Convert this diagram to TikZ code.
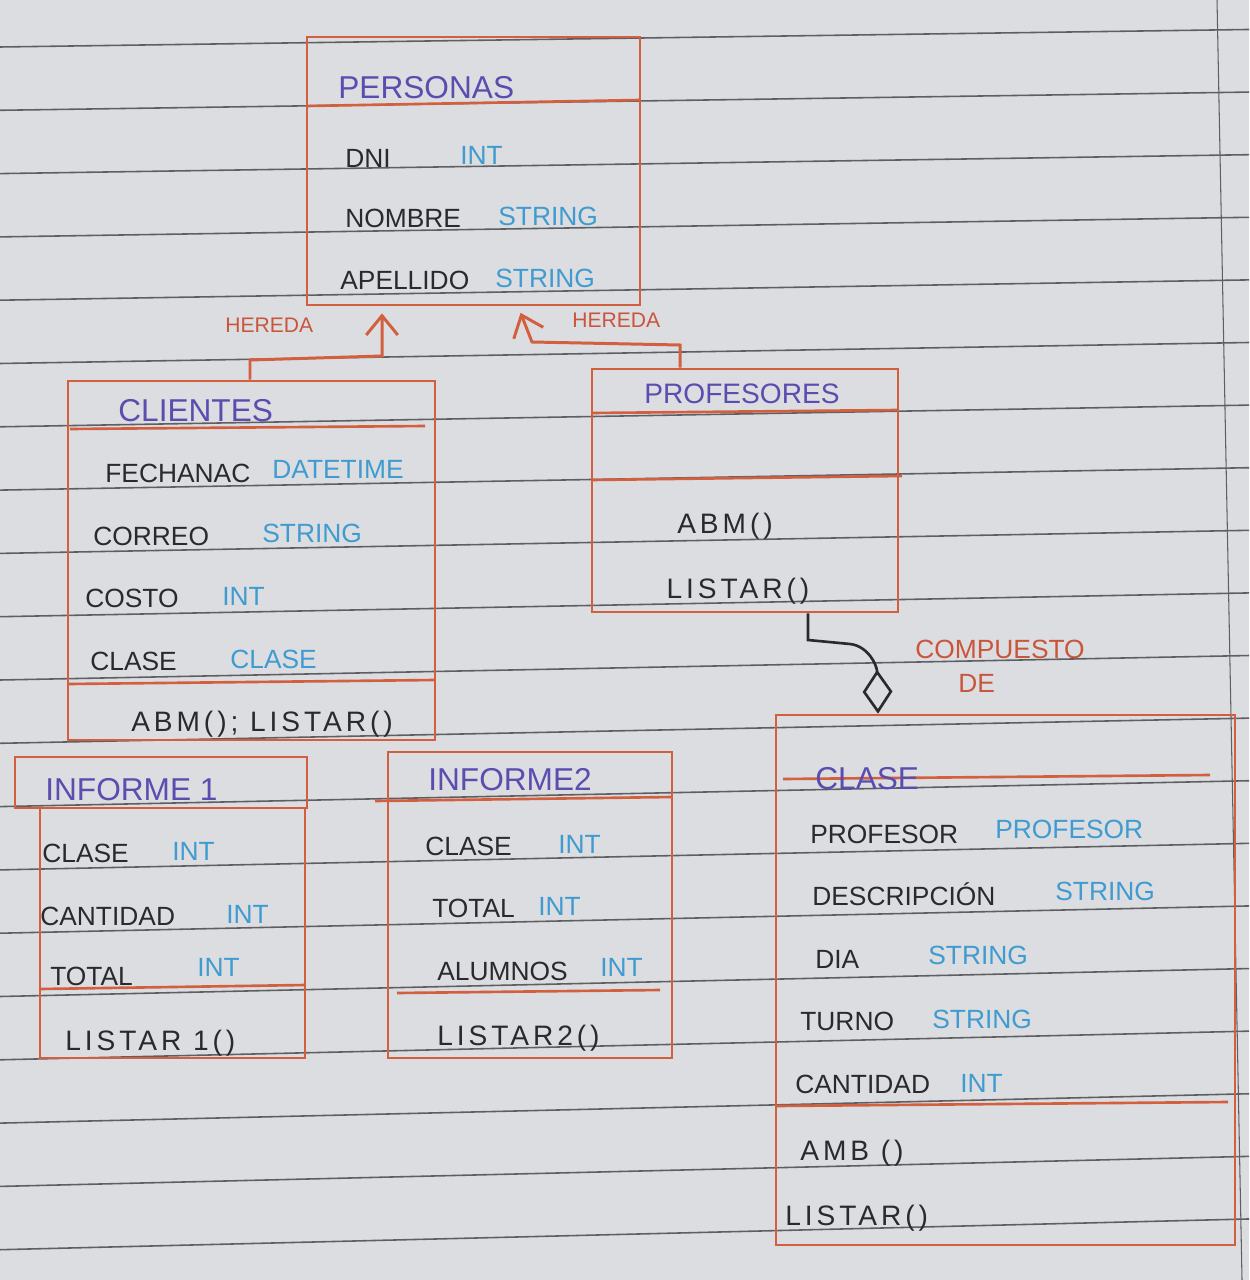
\documentclass[tikz,border=0pt]{standalone}
\usepackage{fontspec}
\setmainfont{Liberation Sans}
\usetikzlibrary{arrows.meta,fit}
\definecolor{paper}{HTML}{DCDDE0}
\definecolor{rulecol}{HTML}{5E5E63}
\definecolor{redpen}{HTML}{D2603F}
\definecolor{ink}{HTML}{2A2A2E}
\definecolor{violetpen}{HTML}{5B4DB0}
\definecolor{bluepen}{HTML}{3F9BD0}
\definecolor{labelred}{HTML}{C9563C}
\begin{document}
\begin{tikzpicture}[x=0.02cm,y=-0.02cm,
  classbox/.style={draw=redpen, line width=1.5pt, inner sep=0pt},
  sepline/.style={draw=redpen, line width=1.5pt},
  ruled/.style={draw=rulecol, line width=0.9pt},
  attr/.style={anchor=base west, inner sep=0pt, text=ink, font=\fontsize{15}{17}\selectfont},
  typ/.style={anchor=base west, inner sep=0pt, text=bluepen, font=\fontsize{15}{17}\selectfont},
  meth/.style={anchor=base, inner sep=0pt, text=ink, font=\fontsize{16}{18}\selectfont\addfontfeature{LetterSpace=14}},
  methw/.style={anchor=base west, inner sep=0pt, text=ink, font=\fontsize{16}{18}\selectfont\addfontfeature{LetterSpace=14}},
  title/.style={anchor=base west, inner sep=0pt, text=violetpen, font=\fontsize{18}{20}\selectfont},
  lbl/.style={anchor=base west, inner sep=0pt, text=labelred, font=\fontsize{12}{14}\selectfont},
  clbl/.style={anchor=base west, inner sep=0pt, text=labelred, font=\fontsize{15}{17}\selectfont},
  inh/.style={draw=redpen, line width=1.7pt, -{Straight Barb[length=11pt,width=18pt]}, shorten >=4pt},
  comp/.style={draw=ink, line width=1.5pt, -{Diamond[length=25pt,width=17pt,fill=paper]}}
]
\fill[paper] (0,0) rectangle (1249,1280);
\useasboundingbox (0,0) rectangle (1249,1280);
% ruled paper
\foreach \i in {0,...,19} {
  \pgfmathsetmacro{\yl}{47+63.3*\i}
  \pgfmathsetmacro{\yr}{\yl-17-0.011*\yl}
  \draw[ruled] (0,\yl) -- (1249,\yr);
}
\draw[rulecol, line width=0.6pt] (1217,0) -- (1242,1280);

% ---------- PERSONAS ----------
\node[classbox, fit={(307,37) (640,305)}] (personas) {};
\draw[sepline] (307,106) -- (640,100);
\node[title] (p-t) at (338,99) {PERSONAS};
\node[attr] (p-a1) at (345,168) {DNI};
\node[typ]  (p-t1) at (460,165) {INT};
\node[attr] (p-a2) at (345,228) {NOMBRE};
\node[typ]  (p-t2) at (498,226) {STRING};
\node[attr] (p-a3) at (340,290) {APELLIDO};
\node[typ]  (p-t3) at (495,288) {STRING};

% ---------- CLIENTES ----------
\node[classbox, fit={(68,381) (435,740)}] (clientes) {};
\draw[sepline] (70,429) -- (425,426);
\draw[sepline] (68,684) -- (435,680);
\node[title] (c-t) at (118,421) {CLIENTES};
\node[attr] (c-a1) at (105,482) {FECHANAC};
\node[typ]  (c-t1) at (272,478) {DATETIME};
\node[attr] (c-a2) at (93,545) {CORREO};
\node[typ]  (c-t2) at (262,542) {STRING};
\node[attr] (c-a3) at (85,607) {COSTO};
\node[typ]  (c-t3) at (222,605) {INT};
\node[attr] (c-a4) at (90,670) {CLASE};
\node[typ]  (c-t4) at (230,668) {CLASE};
\node[meth] (c-m1) at (262,731) {ABM(); LISTAR()};

% ---------- PROFESORES ----------
\node[classbox, fit={(592,369) (898,612)}] (profesores) {};
\draw[sepline] (592,413) -- (898,410);
\draw[sepline] (592,480) -- (902,476);
\node[meth, text=violetpen, font=\fontsize{16}{18}\selectfont] (pr-t) at (742,403) {PROFESORES};
\node[meth] (pr-m1) at (725,533) {ABM()};
\node[meth] (pr-m2) at (738,598) {LISTAR()};

% ---------- INFORME 1 ----------
\node[classbox, fit={(15,757) (307,808)}] (inf1title) {};
\node[classbox, fit={(40,808) (305,1058)}] (informe1) {};
\draw[sepline] (40,989) -- (305,985);
\node[title] (i1-t) at (45,800) {INFORME 1};
\node[attr] (i1-a1) at (42,862) {CLASE};
\node[typ]  (i1-t1) at (172,860) {INT};
\node[attr] (i1-a2) at (40,925) {CANTIDAD};
\node[typ]  (i1-t2) at (226,923) {INT};
\node[attr] (i1-a3) at (50,985) {TOTAL};
\node[typ]  (i1-t3) at (197,976) {INT};
\node[methw] (i1-m1) at (65,1050) {LISTAR 1()};

% ---------- INFORME 2 ----------
\node[classbox, fit={(388,752) (672,1058)}] (informe2) {};
\draw[sepline] (375,801) -- (672,797);
\draw[sepline] (397,993) -- (660,990);
\node[title] (i2-t) at (428,790) {INFORME2};
\node[attr] (i2-a1) at (425,855) {CLASE};
\node[typ]  (i2-t1) at (558,853) {INT};
\node[attr] (i2-a2) at (432,917) {TOTAL};
\node[typ]  (i2-t2) at (538,915) {INT};
\node[attr] (i2-a3) at (437,980) {ALUMNOS};
\node[typ]  (i2-t3) at (600,976) {INT};
\node[methw] (i2-m1) at (437,1045) {LISTAR2()};

% ---------- CLASE ----------
\node[classbox, fit={(776,715) (1235,1245)}] (clase) {};
\draw[sepline] (783,779) -- (1210,775);
\draw[sepline] (776,1106) -- (1228,1102);
\node[title] (cl-t) at (815,789) {CLASE};
\node[attr] (cl-a1) at (810,843) {PROFESOR};
\node[typ]  (cl-t1) at (995,838) {PROFESOR};
\node[attr] (cl-a2) at (812,905) {DESCRIPCIÓN};
\node[typ]  (cl-t2) at (1055,900) {STRING};
\node[attr] (cl-a3) at (815,968) {DIA};
\node[typ]  (cl-t3) at (928,964) {STRING};
\node[attr] (cl-a4) at (800,1030) {TURNO};
\node[typ]  (cl-t4) at (932,1028) {STRING};
\node[attr] (cl-a5) at (795,1093) {CANTIDAD};
\node[typ]  (cl-t5) at (960,1092) {INT};
\node[methw] (cl-m1) at (800,1160) {AMB ()};
\node[methw] (cl-m2) at (785,1225) {LISTAR()};

% ---------- connectors ----------
\draw[inh] (clientes.north -| 250,0) -- (250,360) -- (382,356) -- (personas.south -| 382,0);
\node[lbl] (h1) at (225,333) {HEREDA};
\draw[inh] (profesores.north -| 680,0) -- (680,345) -- (532,342) -- (personas.south -| 518,0);
\node[lbl] (h2) at (572,327) {HEREDA};

\draw[comp] (profesores.south -| 808,0) -- (808,640) -- (850,644)
  .. controls (868,646) and (877,665) .. (clase.north -| 878,0);
\node[clbl] (cp1) at (915,658) {COMPUESTO};
\node[clbl] (cp2) at (958,692) {DE};
\end{tikzpicture}
\end{document}
